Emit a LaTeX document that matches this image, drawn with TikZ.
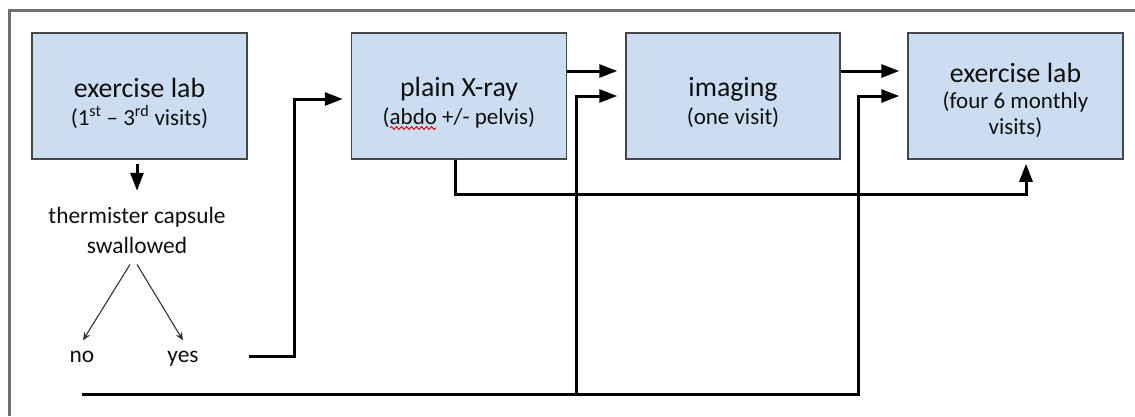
\documentclass[tikz,border=0pt]{standalone}
\usepackage{fontspec}
\setmainfont{Carlito}
\usetikzlibrary{arrows.meta,calc,decorations.pathmorphing}
\definecolor{boxfill}{RGB}{204,221,242}
\definecolor{boxline}{RGB}{70,70,70}
\definecolor{framecol}{RGB}{112,112,112}
\definecolor{txt}{RGB}{15,15,15}
\newcommand\subtxt{\fontsize{23}{28}\selectfont}
\begin{document}
\begin{tikzpicture}[x=1pt,y=-1pt,
  box/.style={draw=boxline,line width=1.5pt,fill=boxfill,minimum width=215pt,
    minimum height=126pt,inner sep=0pt},
  boxtext/.style={inner sep=0pt,align=center,text=txt,font=\fontsize{27.8}{28}\selectfont},
  conn/.style={line width=3pt,-{Triangle[length=18pt,width=13pt]}},
  thinarrow/.style={line width=1.1pt,draw=black!80,-{Stealth[length=8pt,width=7pt]}},
  lbl/.style={font=\fontsize{23.4}{30}\selectfont,inner sep=0pt,text=txt,align=center},
  word/.style={lbl,text height=16pt,text depth=5pt}]
\useasboundingbox (0,0) rectangle (1135,416);
\fill[white] (0,0) rectangle (1135,416);
% frame
\draw[framecol,line width=3pt] (9,416) -- (9,10) -- (1135,10);
% boxes
\node[box] (b1) at (139.5,96) {};
\node[box] (b2) at (459,96) {};
\node[box,minimum width=214pt] (b3) at (733,96) {};
\node[box] (b4) at (1015.5,96) {};
\node[boxtext] (t1) at ($(b1)+(0,7)$) {exercise lab\\\subtxt(1\textsuperscript{st} – 3\textsuperscript{rd} visits)};
\node[boxtext] (t2) at ($(b2)+(0,7)$) {plain X-ray\\\subtxt(abdo +/- pelvis)};
\node[boxtext] (t3) at ($(b3)+(0,7)$) {imaging\\\subtxt(one visit)};
\node[boxtext] (t4) at ($(b4)+(0,4)$) {exercise lab\\[-2pt]\subtxt(four 6 monthly\\[-2pt]\subtxt visits)};
% spell-check squiggle under "abdo"
\draw[red!85!black,line width=0.9pt,decorate,decoration={snake,segment length=5pt,amplitude=1.5pt}] (390,128) -- (436,128);
% capsule text and outcomes
\node[lbl] (cap) at (137,230) {thermister capsule\\swallowed};
\node[word] (no) at (82,357) {no};
\node[word] (yes) at (183,357) {yes};
% junction coordinates
\coordinate (yS) at (249,356);
\coordinate (nS) at (82,394);
\coordinate (j2) at ($(b2.west)+(-56,3)$);
\coordinate (j3) at ($(b3.west)+(-49,0)$);
\coordinate (j4) at ($(b4.west)+(-49,0)$);
% connectors
\draw[conn,shorten <=4pt] (b1.south -| cap) -- ($(b1.south -| cap)+(0,31)$);
\draw[thinarrow] ([xshift=-7pt,yshift=-11pt]cap.south) -- ([xshift=1pt,yshift=6pt]no.north);
\draw[thinarrow] ([yshift=-11pt]cap.south) -- ([yshift=6pt]yes.north);
\draw[conn,shorten >=8pt] (yS) -| (j2) -- ([yshift=-3pt]b2.west);
\draw[conn,shorten >=8pt] ([yshift=25pt]b2.east) -- ([yshift=25pt]b3.west);
\draw[conn,shorten >=8pt] ([yshift=25pt]b3.east) -- ([yshift=25pt]b4.west);
\draw[conn,shorten >=8pt] (nS) -| (j4) -- (b4.west);
\draw[conn,shorten >=8pt] (j3 |- nS) -- (j3) -- (b3.west);
\draw[conn,shorten >=4pt] ([xshift=-4pt]b2.south) -- ++(0,35) -| ([xshift=10.5pt]b4.south);
\end{tikzpicture}
\end{document}
